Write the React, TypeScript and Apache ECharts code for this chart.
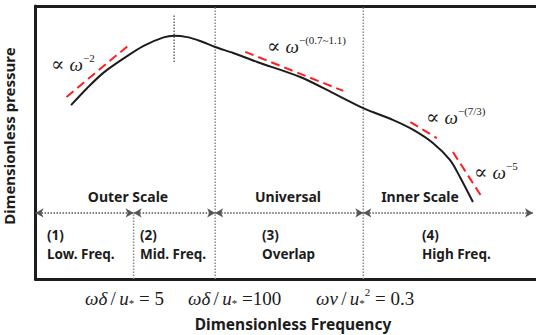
import React, { useEffect, useRef } from 'react';
import * as echarts from 'echarts';

// Schematic spectrum curve (arbitrary units, 0-100 on both axes)
const curveX = [7.1, 10.3, 13.6, 17.6, 21.6, 25.6, 27.7, 30.3, 32.9, 35.9, 39.5, 44.3, 52.9, 59.5, 65.5, 71.5, 75.5, 79.4, 82.8, 84.8, 87.4];
const curveY = [63.7, 69.9, 75.6, 80.8, 85.4, 88.5, 89.1, 88.6, 87.2, 85.0, 82.8, 79.5, 74.0, 68.1, 62.6, 58.2, 54.6, 49.8, 43.6, 37.4, 28.2];

// Red dashed slope guides
const slopeStartX = [6.2, 41.9, 74.9, 83.4];
const slopeStartY = [66.7, 83.2, 57.5, 46.5];
const slopeEndX = [18.4, 61.5, 80.2, 89.2];
const slopeEndY = [85.3, 68.9, 51.6, 30.0];
const slopeExponents = ['−2', '−(0.7~1.1)', '−(7/3)', '−5'];

// Region dividers
const dividerX = [19.6, 35.9, 65.5];
const dividerTop = [24.2, 100, 100];
const peakX = 27.7;
const peakTickY = [79.5, 97.1];

// Scale arrows
const arrowY = 24.2;
const arrowBounds = [0, 19.6, 35.9, 65.5, 99.4];
const scaleNames = ['Outer Scale', 'Universal', 'Inner Scale'];
const regionNums = ['(1)', '(2)', '(3)', '(4)'];
const regionNames = ['Low. Freq.', 'Mid. Freq.', 'Overlap', 'High Freq.'];

const SANS = '"Noto Sans", "Open Sans", sans-serif';
const SERIF = '"Liberation Serif", "DejaVu Serif", serif';
const INK = '#1c1c1c';

export default function App() {
  const ref = useRef<HTMLDivElement>(null);
  useEffect(() => {
    if (!ref.current) return;
    const chart = echarts.init(ref.current, undefined, { renderer: 'svg' });

    const axisCommon = {
      type: 'value' as const,
      min: 0,
      max: 100,
      axisTick: { show: false },
      axisLabel: { show: false },
      splitLine: { show: false },
      axisLine: { show: true, lineStyle: { color: INK, width: 3 } },
    };

    const series: any[] = [];
    series.push({
      type: 'line',
      data: curveX.map((x, i) => [x, curveY[i]]),
      smooth: 0.3,
      showSymbol: false,
      silent: true,
      lineStyle: { color: INK, width: 2 },
      z: 5,
      markLine: {
        silent: true,
        symbol: ['arrow', 'arrow'],
        symbolSize: [7, 8],
        label: { show: false },
        lineStyle: { type: 'dotted', color: '#555', width: 1.5 },
        itemStyle: { color: '#111' },
        data: arrowBounds.slice(0, -1).map((a, i) => [
          { coord: [a, arrowY] },
          { coord: [arrowBounds[i + 1], arrowY] },
        ]),
      },
    });
    slopeStartX.forEach((sx, i) => {
      series.push({
        type: 'line',
        data: [[sx, slopeStartY[i]], [slopeEndX[i], slopeEndY[i]]],
        showSymbol: false,
        silent: true,
        lineStyle: { color: '#ff1f1f', width: 2, type: [9, 5] },
        z: 4,
      });
    });
    dividerX.forEach((dx, i) => {
      series.push({
        type: 'line',
        data: [[dx, 0], [dx, dividerTop[i]]],
        showSymbol: false,
        silent: true,
        lineStyle: { color: '#8a8a8a', width: 1.5, type: 'dotted' },
        z: 3,
      });
    });
    series.push({
      type: 'line',
      data: [[peakX, peakTickY[0]], [peakX, peakTickY[1]]],
      showSymbol: false,
      silent: true,
      lineStyle: { color: '#666', width: 1.5, type: 'dotted' },
      z: 3,
    });

    const powerPos = [
      [51, 63],
      [267, 45],
      [426, 116],
      [474, 171],
    ];
    const powerRich = {
      p: { fontFamily: SERIF, fontSize: 20, lineHeight: 22, verticalAlign: 'bottom', fill: INK },
      w: { fontFamily: SERIF, fontStyle: 'italic', fontSize: 19, lineHeight: 22, verticalAlign: 'bottom', fill: INK },
      s: { fontFamily: SERIF, fontSize: 11, lineHeight: 11, verticalAlign: 'top', fill: INK },
    };
    const powerTexts = slopeExponents.map((e, i) => ({
      type: 'text',
      x: powerPos[i][0],
      y: powerPos[i][1],
      silent: true,
      style: {
        text: `{p|∝ }{w|ω}{s|${e}}`,
        rich: powerRich,
        align: 'left',
        verticalAlign: 'middle',
      },
    }));

    const scaleCenters = [128, 288, 420];
    const scaleTexts = scaleNames.map((n, i) => ({
      type: 'text',
      x: scaleCenters[i],
      y: 196,
      silent: true,
      style: { text: n, fontFamily: SANS, fontWeight: 'bold', fontSize: 14, fill: INK, align: 'center', verticalAlign: 'middle' },
    }));
    const regionLeft = [47, 140, 262, 422];
    const regionTexts: any[] = [];
    regionNames.forEach((n, i) => {
      regionTexts.push({
        type: 'text',
        x: regionLeft[i],
        y: 235,
        silent: true,
        style: { text: regionNums[i], fontFamily: SANS, fontWeight: 'bold', fontSize: 13.5, fill: INK, align: 'left', verticalAlign: 'middle' },
      });
      regionTexts.push({
        type: 'text',
        x: regionLeft[i],
        y: 254,
        silent: true,
        style: { text: n, fontFamily: SANS, fontWeight: 'bold', fontSize: 13.5, fill: INK, align: 'left', verticalAlign: 'middle' },
      });
    });

    const fRich = {
      i: { fontFamily: SERIF, fontStyle: 'italic', fontSize: 19, lineHeight: 22, verticalAlign: 'bottom', fill: INK },
      n: { fontFamily: SERIF, fontSize: 19, lineHeight: 22, verticalAlign: 'bottom', fill: INK },
      sub: { fontFamily: SERIF, fontSize: 11, lineHeight: 9, verticalAlign: 'bottom', fill: INK },
      sup: { fontFamily: SERIF, fontSize: 11, lineHeight: 11, verticalAlign: 'top', fill: INK },
    };
    const formulas = [
      { x: 85, text: '{i|ωδ} {n|/} {i|u}{sub|*}{n| = 5}' },
      { x: 188, text: '{i|ωδ} {n|/} {i|u}{sub|*}{n| =100}' },
      { x: 316, text: '{i|ων} {n|/} {i|u}{sub|*}{sup|2}{n| = 0.3}' },
    ].map((f) => ({
      type: 'text',
      x: f.x,
      y: 297,
      silent: true,
      style: { text: f.text, rich: fRich, align: 'left', verticalAlign: 'middle' },
    }));

    chart.setOption({
      animation: false,
      backgroundColor: '#ffffff',
      grid: { left: 35.5, top: 6, right: 0, bottom: 56 },
      xAxis: [
        { ...axisCommon, position: 'bottom' },
        { ...axisCommon, position: 'top' },
      ],
      yAxis: { ...axisCommon },
      series,
      graphic: [
        ...powerTexts,
        ...scaleTexts,
        ...regionTexts,
        ...formulas,
        {
          type: 'text',
          x: 293,
          y: 324,
          silent: true,
          style: { text: 'Dimensionless Frequency', fontFamily: SANS, fontWeight: 'bold', fontSize: 15.5, fill: INK, align: 'center', verticalAlign: 'middle' },
        },
        {
          type: 'text',
          x: 9,
          y: 136,
          rotation: Math.PI / 2,
          silent: true,
          style: { text: 'Dimensionless pressure', fontFamily: SANS, fontWeight: 'bold', fontSize: 15, fill: INK, align: 'center', verticalAlign: 'middle' },
        },
      ],
    });
    return () => chart.dispose();
  }, []);
  return (
    <div
      ref={ref}
      style={{ position: 'absolute', left: 0, top: 0, width: 536, height: 335, background: '#fff' }}
    />
  );
}
